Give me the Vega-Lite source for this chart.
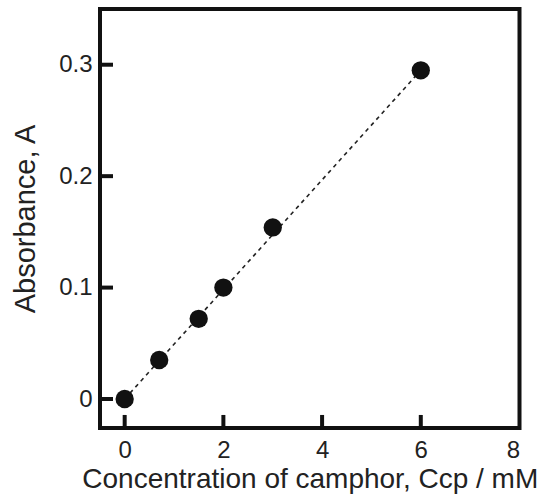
{
  "$schema": "https://vega.github.io/schema/vega-lite/v6.json",
  "autosize": "none",
  "width": 419.5,
  "height": 419,
  "padding": {"left": 100, "top": 9, "right": 23.5, "bottom": 73},
  "background": "white",
  "config": {
    "view": {"stroke": "#111111", "strokeWidth": 4, "fill": null},
    "font": "Liberation Sans",
    "axis": {
      "grid": false,
      "domain": false,
      "ticks": false,
      "labelFont": "Liberation Sans",
      "labelFontSize": 24,
      "labelColor": "#222222",
      "titleFont": "Liberation Sans",
      "titleFontSize": 28,
      "titleFontWeight": "normal",
      "titleColor": "#222222"
    }
  },
  "datasets": {
    "points": [
      {"conc": 0, "abs": 0.0},
      {"conc": 0.7, "abs": 0.035},
      {"conc": 1.5, "abs": 0.072},
      {"conc": 2, "abs": 0.1},
      {"conc": 3, "abs": 0.154},
      {"conc": 6, "abs": 0.295}
    ],
    "fit": [
      {"conc": 0, "abs": 0.0},
      {"conc": 6, "abs": 0.295}
    ],
    "xticks": [
      {"conc": 0, "lo": -0.026, "hi": -0.0143},
      {"conc": 2, "lo": -0.026, "hi": -0.0143},
      {"conc": 4, "lo": -0.026, "hi": -0.0143},
      {"conc": 6, "lo": -0.026, "hi": -0.0143}
    ],
    "yticks": [
      {"abs": 0, "lo": -0.5, "hi": -0.236},
      {"abs": 0.1, "lo": -0.5, "hi": -0.236},
      {"abs": 0.2, "lo": -0.5, "hi": -0.236},
      {"abs": 0.3, "lo": -0.5, "hi": -0.236}
    ]
  },
  "layer": [
    {
      "data": {"name": "fit"},
      "mark": {"type": "line", "color": "#222222", "strokeWidth": 1.6, "strokeDash": [4, 4]},
      "encoding": {
        "x": {"field": "conc", "type": "quantitative", "scale": {"domain": [-0.5, 8], "nice": false, "zero": false},
          "axis": {"values": [0, 2, 4, 6, 8], "format": "~g", "title": "Concentration of camphor, Ccp / mM", "labelPadding": 10, "titlePadding": 3}},
        "y": {"field": "abs", "type": "quantitative", "scale": {"domain": [-0.026, 0.35], "nice": false, "zero": false},
          "axis": {"values": [0, 0.1, 0.2, 0.3], "format": "~g", "title": "Absorbance, A", "titleFontSize": 29, "labelPadding": 8, "titlePadding": 18}}
      }
    },
    {
      "data": {"name": "points"},
      "mark": {"type": "circle", "color": "#111111", "opacity": 1, "size": 335},
      "encoding": {
        "x": {"field": "conc", "type": "quantitative"},
        "y": {"field": "abs", "type": "quantitative"}
      }
    },
    {
      "data": {"name": "xticks"},
      "mark": {"type": "rule", "color": "#111111", "strokeWidth": 4, "opacity": 1},
      "encoding": {
        "x": {"field": "conc", "type": "quantitative"},
        "y": {"field": "lo", "type": "quantitative"},
        "y2": {"field": "hi"}
      }
    },
    {
      "data": {"name": "yticks"},
      "mark": {"type": "rule", "color": "#111111", "strokeWidth": 4, "opacity": 1},
      "encoding": {
        "y": {"field": "abs", "type": "quantitative"},
        "x": {"field": "lo", "type": "quantitative"},
        "x2": {"field": "hi"}
      }
    }
  ]
}
